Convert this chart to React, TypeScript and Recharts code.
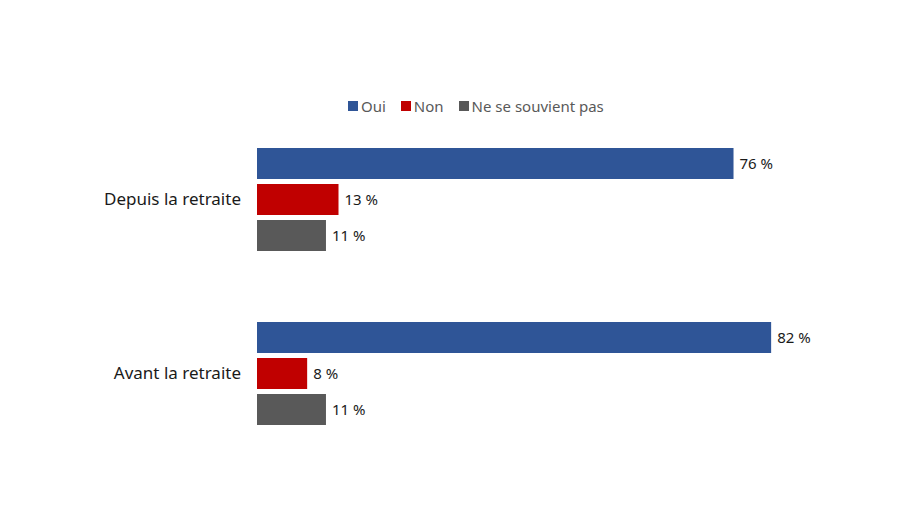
import { BarChart, Bar, XAxis, YAxis, LabelList } from "recharts";

const categories = ["Depuis la retraite", "Avant la retraite"];
const oui = [76, 82];
const non = [13, 8];
const nsp = [11, 11];

const series = [
  { key: "oui", name: "Oui", color: "#2F5597" },
  { key: "non", name: "Non", color: "#C00000" },
  { key: "nsp", name: "Ne se souvient pas", color: "#595959" },
];

const data = categories.map((cat, i) => ({
  cat,
  oui: oui[i],
  non: non[i],
  nsp: nsp[i],
}));

const FONT = "'Noto Sans', 'Liberation Sans', Arial, sans-serif";

const pct = (v: any) => `${v} %`;

export default function App() {
  return (
    <div style={{ position: "absolute", left: 0, top: 0, width: 900, height: 506, background: "#fff", fontFamily: FONT }}>
      {/* legend */}
      <div
        style={{
          position: "absolute",
          top: 96,
          left: 348,
          display: "flex",
          alignItems: "center",
          fontSize: 15,
          color: "#595959",
          whiteSpace: "nowrap",
        }}
      >
        {series.map((s, i) => (
          <div key={s.key} style={{ display: "flex", alignItems: "center", marginRight: i < series.length - 1 ? 15 : 0 }}>
            <span style={{ display: "inline-block", width: 10, height: 10, background: s.color, marginRight: 3 }} />
            <span>{s.name}</span>
          </div>
        ))}
      </div>
      <BarChart
        width={900}
        height={506}
        data={data}
        layout="vertical"
        margin={{ top: 112, right: 16, bottom: 46, left: 0 }}
        barGap={5}
        barCategoryGap={35}
      >
        <XAxis type="number" domain={[0, 100]} hide />
        <YAxis
          type="category"
          dataKey="cat"
          width={257}
          axisLine={false}
          tickLine={false}
          tickSize={0}
          tickMargin={16}
          tick={{ fill: "#1a1a1a", fontSize: 17, fontFamily: FONT }}
        />
        {series.map((s) => (
          <Bar key={s.key} dataKey={s.key} name={s.name} fill={s.color} barSize={31} isAnimationActive={false}>
            <LabelList
              dataKey={s.key}
              position="right"
              offset={6}
              formatter={pct}
              style={{ fill: "#1a1a1a", fontSize: 15, fontFamily: FONT }}
            />
          </Bar>
        ))}
      </BarChart>
    </div>
  );
}
